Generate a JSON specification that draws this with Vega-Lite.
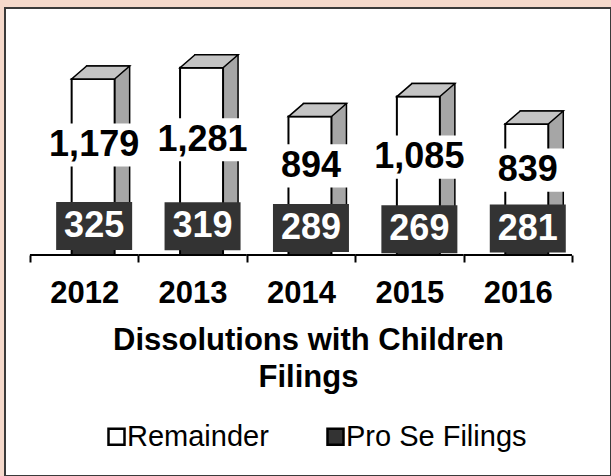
{
  "$schema": "https://vega.github.io/schema/vega-lite/v6.json",
  "width": 611,
  "height": 476,
  "autosize": {"type": "fit", "contains": "padding"},
  "padding": {"left": 5, "top": 8, "right": 0, "bottom": 0},
  "background": "#F5D9CB",
  "config": {
    "view": {"fill": "white", "stroke": "#3a3a3a", "strokeWidth": 2},
    "font": "Liberation Sans"
  },
  "data": {
    "values": [
      {"year": "2012", "type": "Remainder", "value": 1179},
      {"year": "2012", "type": "Pro Se Filings", "value": 325},
      {"year": "2013", "type": "Remainder", "value": 1281},
      {"year": "2013", "type": "Pro Se Filings", "value": 319},
      {"year": "2014", "type": "Remainder", "value": 894},
      {"year": "2014", "type": "Pro Se Filings", "value": 289},
      {"year": "2015", "type": "Remainder", "value": 1085},
      {"year": "2015", "type": "Pro Se Filings", "value": 269},
      {"year": "2016", "type": "Remainder", "value": 839},
      {"year": "2016", "type": "Pro Se Filings", "value": 281}
    ]
  },
  "transform": [
    {"stack": "value", "groupby": ["year"], "sort": [{"field": "type", "order": "ascending"}], "as": ["v0", "v1"]},
    {"calculate": "(datum.v0 + datum.v1) / 2", "as": "mid"}
  ],
  "encoding": {
    "x": {
      "field": "year",
      "type": "ordinal",
      "scale": {"paddingInner": 0, "paddingOuter": 0.295, "align": 0.39},
      "axis": {
        "orient": "bottom",
        "offset": -221,
        "domain": false,
        "ticks": true,
        "tickBand": "extent",
        "tickSize": 7,
        "tickWidth": 2,
        "tickColor": "black",
        "labelFontSize": 31,
        "labelFontWeight": "bold",
        "labelColor": "black",
        "labelPadding": 16,
        "labelAngle": 0,
        "grid": false,
        "title": ["Dissolutions with Children", "Filings"],
        "titleFontSize": 31,
        "titleFontWeight": "bold",
        "titleColor": "black",
        "titleLineHeight": 37,
        "titlePadding": 17
      }
    }
  },
  "layer": [
    {
      "mark": {"type": "bar", "width": 43, "xOffset": 24, "yOffset": -13, "y2Offset": -13, "fill": "#a6a6a6", "stroke": "black", "strokeWidth": 1.5},
      "encoding": {
        "y": {"field": "v0", "type": "quantitative", "scale": {"domain": [-1889, 2111], "nice": false, "zero": false}, "axis": null},
        "y2": {"field": "v1"}
      }
    },
    {
      "mark": {"type": "bar", "width": 43, "xOffset": 9, "stroke": "black", "strokeWidth": 2},
      "encoding": {
        "y": {"field": "v0", "type": "quantitative", "scale": {"domain": [-1889, 2111], "nice": false, "zero": false}, "axis": null},
        "y2": {"field": "v1"},
        "color": {
          "field": "type",
          "type": "nominal",
          "scale": {"domain": ["Remainder", "Pro Se Filings"], "range": ["white", "#333333"]},
          "legend": {
            "orient": "none",
            "legendX": 97,
            "legendY": 414,
            "direction": "horizontal",
            "title": null,
            "padding": 0,
            "columnPadding": 52,
            "labelOffset": -4,
            "symbolType": "square",
            "symbolSize": 256,
            "symbolStrokeColor": "black",
            "symbolStrokeWidth": 2.5,
            "symbolOpacity": 1,
            "labelFontSize": 29,
            "labelColor": "black",
            "labelLimit": 0
          }
        }
      }
    },
    {
      "transform": [{"filter": "datum.type == 'Remainder'"}],
      "mark": {"type": "point", "filled": true, "fill": "#c4c4c4", "opacity": 1, "stroke": "black", "strokeWidth": 1.5, "xOffset": 9, "size": 7396, "shape": "M-0.5,0L0.5,0L0.849,-0.302L-0.151,-0.302Z"},
      "encoding": {
        "y": {"field": "v1", "type": "quantitative", "scale": {"domain": [-1889, 2111], "nice": false, "zero": false}, "axis": null}
      }
    },
    {
      "transform": [{"filter": "datum.type == 'Remainder'"}],
      "mark": {"type": "point", "filled": true, "fill": "white", "opacity": 1, "strokeWidth": 0, "xOffset": 10, "yOffset": -3, "size": 8100, "shape": "M-1,-0.48L1,-0.48L1,0.48L-1,0.48Z"},
      "encoding": {
        "y": {"field": "mid", "type": "quantitative", "scale": {"domain": [-1889, 2111], "nice": false, "zero": false}, "axis": null}
      }
    },
    {
      "transform": [{"filter": "datum.type == 'Pro Se Filings'"}],
      "mark": {"type": "point", "filled": true, "fill": "#333333", "opacity": 1, "strokeWidth": 0, "xOffset": 10, "yOffset": -10, "size": 5776, "shape": "M-1,-0.632L1,-0.632L1,0.632L-1,0.632Z"},
      "encoding": {
        "y": {"field": "mid", "type": "quantitative", "scale": {"domain": [-1889, 2111], "nice": false, "zero": false}, "axis": null}
      }
    },
    {
      "transform": [{"filter": "datum.type == 'Remainder'"}],
      "mark": {"type": "text", "font": "Liberation Sans", "fontWeight": "bold", "fontSize": 36, "color": "black", "xOffset": 10, "yOffset": -3, "baseline": "middle", "align": "center"},
      "encoding": {
        "y": {"field": "mid", "type": "quantitative", "scale": {"domain": [-1889, 2111], "nice": false, "zero": false}, "axis": null},
        "text": {"field": "value", "type": "quantitative", "format": ","}
      }
    },
    {
      "transform": [{"filter": "datum.type == 'Pro Se Filings'"}],
      "mark": {"type": "text", "font": "Liberation Sans", "fontWeight": "bold", "fontSize": 36, "color": "white", "xOffset": 10, "yOffset": -10, "baseline": "middle", "align": "center"},
      "encoding": {
        "y": {"field": "mid", "type": "quantitative", "scale": {"domain": [-1889, 2111], "nice": false, "zero": false}, "axis": null},
        "text": {"field": "value", "type": "quantitative", "format": ","}
      }
    },
    {
      "transform": [{"filter": "datum.type == 'Remainder'"}],
      "mark": {"type": "rule", "color": "black", "strokeWidth": 2},
      "encoding": {
        "x": {"field": "year", "type": "ordinal", "bandPosition": 0},
        "x2": {"field": "year", "bandPosition": 1},
        "y": {"datum": 0, "type": "quantitative", "scale": {"domain": [-1889, 2111], "nice": false, "zero": false}, "axis": null}
      }
    }
  ]
}
